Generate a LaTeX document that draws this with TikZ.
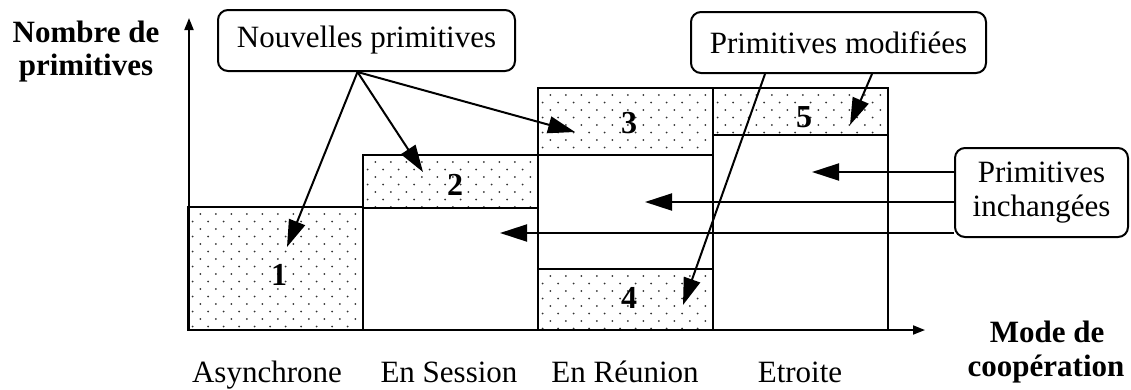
\documentclass[tikz,border=0pt]{standalone}
\usepackage{fontspec}
\setmainfont{Liberation Serif}
\usetikzlibrary{arrows.meta,calc}

\definecolor{dotc}{gray}{0.2}

% staggered dot fill inside the rectangle (#1,#2)-(#3,#4)
\newcommand\speckle[4]{%
  \begin{scope}
    \clip (#1,#2) rectangle (#3,#4);
    \foreach \r in {0,...,17}{
      \foreach \c in {0,...,12}{
        \fill[dotc] ({#1+4.7+15.5*\c+7.75*mod(\r+1,2)},{#2+7+7.5*\r}) circle[radius=1pt];
      }
    }
  \end{scope}}

\begin{document}
\begin{tikzpicture}[x=1pt,y=-1pt,
  every node/.style={font=\fontsize{31}{34}\selectfont, inner sep=0pt},
  region/.style={line width=2.4pt},
  axis/.style={line width=1.8pt, -{Triangle[length=12pt,width=9pt]}},
  callout/.style={draw, line width=2pt, rounded corners=10pt, align=center, fill=white},
  pointer/.style={line width=2pt, -{Triangle[length=27pt,width=17pt]}},
  num/.style={font=\fontsize{32}{34}\selectfont\bfseries},
  tag/.style={anchor=base},
  btag/.style={anchor=base, font=\fontsize{31}{34}\selectfont\bfseries}
]
\useasboundingbox (0,0) rectangle (1131,389);

% dotted regions
\speckle{188}{207}{363}{330}
\speckle{363}{155}{538}{208}
\speckle{538}{88}{713}{155}
\speckle{538}{269}{713}{330}
\speckle{713}{88}{888}{135}

% region outlines
\draw[region] (188,207) rectangle (363,330);
\draw[region] (363,155) rectangle (538,208);
\draw[region] (363,208) rectangle (538,330);
\draw[region] (538,88) rectangle (713,155);
\draw[region] (538,155) rectangle (713,269);
\draw[region] (538,269) rectangle (713,330);
\draw[region] (713,88) rectangle (888,135);
\draw[region] (713,135) rectangle (888,330);

% axes
\coordinate (o) at (189,330);
\coordinate (ytip) at (189,18);
\coordinate (xtip) at (925,330);
\draw[axis] (o) -- (ytip);
\draw[axis] (o) -- (xtip);

% region numbers
\node[num] (n1) at (279,275) {1};
\node[num] (n2) at (455,185) {2};
\node[num] (n3) at (629,123) {3};
\node[num] (n4) at (629,298) {4};
\node[num] (n5) at (804,117) {5};

% axis titles
\node[btag] (yl1) at (86,42) {Nombre de};
\node[btag] (yl2) at (86,75) {primitives};
\node[btag] (xl1) at (1047,342) {Mode de};
\node[btag] (xl2) at (1046,376) {coopération};

% cooperation modes
\node[tag] (m1) at (267,382) {Asynchrone};
\node[tag] (m2) at (449,382) {En Session};
\node[tag] (m3) at (625,382) {En Réunion};
\node[tag] (m4) at (800,382) {Etroite};

% callouts
\node[callout, minimum width=297pt, minimum height=61pt] (nouv) at (366.5,40.5) {Nouvelles primitives};
\node[callout, minimum width=295pt, minimum height=61pt] (modif) at (838.5,42.5) {Primitives modifiées};
\node[callout, minimum width=173pt, minimum height=89pt] (inch) at (1041.5,192.5) {Primitives\\inchangées};

% arrow targets
\coordinate (t1) at (287,247);
\coordinate (t2) at (423,172);
\coordinate (t3) at (575,132);
\coordinate (t4) at (683,305);
\coordinate (t5) at (850,125);
\coordinate (t6) at (812,172);
\coordinate (t7) at (645,202);
\coordinate (t8) at (500,233);

% pointers
\draw[pointer] ($(nouv.south)+(-9,0)$) -- (t1);
\draw[pointer] ($(nouv.south)+(-9,0)$) -- (t2);
\draw[pointer] ($(nouv.south)+(-9,0)$) -- (t3);
\draw[pointer] ($(modif.south)+(-73.5,0)$) -- (t4);
\draw[pointer] ($(modif.south)+(33.5,0)$) -- (t5);
\draw[pointer] (inch.west |- t6) -- (t6);
\draw[pointer] (inch.west |- t7) -- (t7);
\draw[pointer] (inch.west |- t8) -- (t8);
\end{tikzpicture}
\end{document}
